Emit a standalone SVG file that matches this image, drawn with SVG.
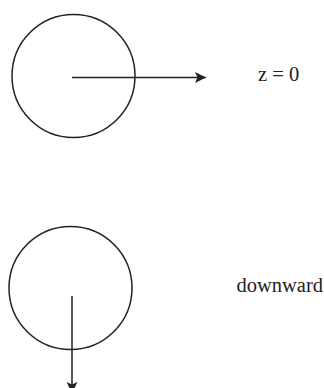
<svg xmlns="http://www.w3.org/2000/svg" width="324" height="388" viewBox="0 0 324 388">
<style>
.c{fill:none;stroke:#222;stroke-width:1.5}
.l{stroke:#222;stroke-width:1.5}
.t{font-family:"Liberation Serif",serif;font-size:20.5px;fill:#222}
</style>
<defs>
<marker id="ah" viewBox="0 0 11 11" refX="11" refY="5.5" markerWidth="11" markerHeight="11" markerUnits="userSpaceOnUse" orient="auto">
<path d="M0,0 L11,5.5 L0,11 L2.5,5.5 Z" fill="#222"/>
</marker>
</defs>
<g id="node-top"><circle class="c" cx="73.5" cy="76" r="61.5"/></g>
<g id="node-bottom"><circle class="c" cx="70.5" cy="288" r="61.5"/></g>
<g id="connectors">
<line class="l" x1="72" y1="77.5" x2="206" y2="77.5" marker-end="url(#ah)"/>
<line class="l" x1="72" y1="296" x2="72" y2="393" marker-end="url(#ah)"/>
</g>
<g id="labels">
<text class="t" x="258" y="81">z = 0</text>
<text class="t" x="236.5" y="292">downward</text>
</g>
</svg>
